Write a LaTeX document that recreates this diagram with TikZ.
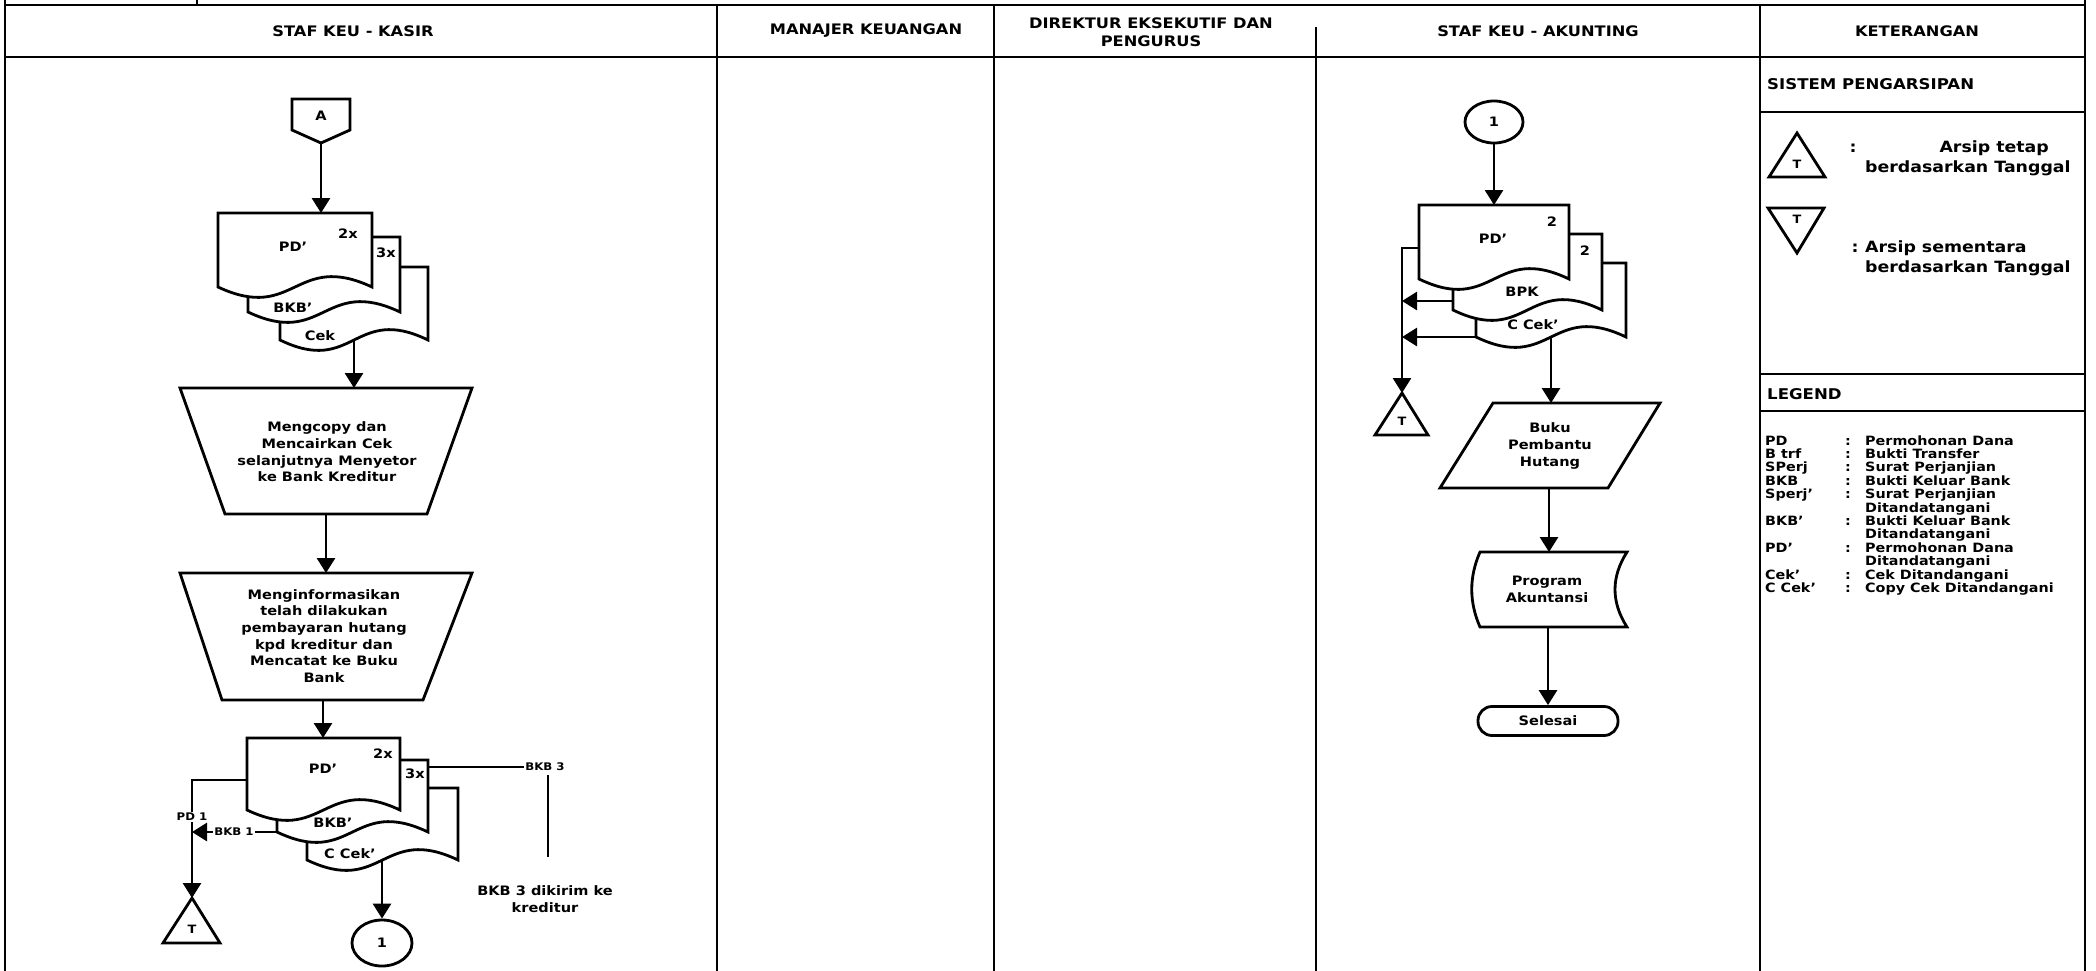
\documentclass[tikz,border=0pt]{standalone}
\usepackage{fontspec}
\setmainfont{DejaVu Sans}[FakeStretch=1.12]
\usetikzlibrary{arrows.meta,shapes.geometric}
\newcommand\kdoc[4]{%
  \draw[shp] (#1,#3) -- (#2,#3) -- (#2,#4)
    .. controls ({(#1+#2)/2},{#4-36}) and ({(#1+#2)/2},{#4+36}) .. (#1,#4) -- cycle;}
\begin{document}
\begin{tikzpicture}[x=1pt,y=-1pt,
  frm/.style={line width=2.4pt,line cap=rect},
  shp/.style={draw,line width=2.8pt,fill=white,line join=miter},
  ln/.style={line width=2.8pt},
  arr/.style={line width=2.8pt,-{Triangle[width=18pt,length=15pt]}},
  ftxt/.style={font=\bfseries\fontsize{13}{16.7}\selectfont,align=center,inner sep=0pt},
  stxt/.style={font=\bfseries\fontsize{10.5}{12}\selectfont,inner sep=1pt,fill=white},
  hdr/.style={font=\bfseries\fontsize{14.5}{18.5}\selectfont,align=center,inner sep=0pt},
  ktx/.style={font=\bfseries\fontsize{15.5}{19.5}\selectfont,inner sep=0pt},
  ttl/.style={font=\bfseries\fontsize{14.8}{18}\selectfont,inner sep=0pt,anchor=base west},
  leg/.style={font=\bfseries\fontsize{12.8}{13.4}\selectfont,inner sep=0pt,anchor=base west},
  ttx/.style={font=\bfseries\fontsize{11.5}{13}\selectfont,inner sep=0pt},
  circ/.style={draw,ellipse,line width=2.8pt,font=\bfseries\fontsize{13}{14}\selectfont,inner sep=0pt}
]
\useasboundingbox (0,0) rectangle (2096,970);

% ---------- frame ----------
\draw[frm] (5,0) -- (5,970);
\draw[frm] (5,5) -- (2085,5);
\draw[frm] (5,57) -- (2085,57);
\draw[frm] (197,0) -- (197,5);
\draw[frm] (717,5) -- (717,970);
\draw[frm] (994,5) -- (994,970);
\draw[frm] (1316,28) -- (1316,970);
\draw[frm] (1760,5) -- (1760,970);
\draw[frm] (2085,0) -- (2085,970);
\draw[frm] (1760,112) -- (2085,112);
\draw[frm] (1760,374) -- (2085,374);
\draw[frm] (1760,411) -- (2085,411);

% ---------- headers ----------
\node[hdr] (h1) at (353,31) {STAF KEU - KASIR};
\node[hdr] (h2) at (866,31) {MANAJER KEUANGAN};
\node[hdr] (h3) at (1151,32) {DIREKTUR EKSEKUTIF DAN\\PENGURUS};
\node[hdr] (h4) at (1538,31) {STAF KEU - AKUNTING};
\node[hdr] (h5) at (1917,31) {KETERANGAN};

% ---------- KASIR ----------
\draw[shp] (292,99) -- (350,99) -- (350,130) -- (321,143) -- (292,130) -- cycle;
\node[ftxt] (lblA) at (321,116) {A};
\coordinate (Abot) at (321,143);
\coordinate (k1top) at (321,213);

\kdoc{280}{428}{267}{340}
\kdoc{248}{400}{237}{312}
\kdoc{218}{372}{213}{287}
\node[ftxt] (k1n2) at (348,234) {2x};
\node[ftxt] (k1pd) at (293,247) {PD’};
\node[ftxt] (k1n3) at (386,253) {3x};
\node[ftxt] (k1bkb) at (293,308) {BKB’};
\node[ftxt] (k1cek) at (320,336) {Cek};
\coordinate (k1bot) at (354,340);
\draw[arr] (Abot) -- (k1top);

\draw[shp] (180,388) -- (472,388) -- (427,514) -- (225,514) -- cycle;
\node[ftxt] (t1) at (327,452) {Mengcopy dan\\Mencairkan Cek\\selanjutnya Menyetor\\ke Bank Kreditur};
\coordinate (t1top) at (354,388);
\coordinate (t1bot) at (326,514);
\draw[arr] (k1bot) -- (t1top);

\draw[shp] (180,573) -- (472,573) -- (423,700) -- (222,700) -- cycle;
\node[ftxt] (t2) at (324,636) {Menginformasikan\\telah dilakukan\\pembayaran hutang\\kpd kreditur dan\\Mencatat ke Buku\\Bank};
\coordinate (t2top) at (326,573);
\coordinate (t2bot) at (323,700);
\draw[arr] (t1bot) -- (t2top);

\kdoc{307}{458}{788}{860}
\kdoc{277}{428}{760}{832}
\kdoc{247}{400}{738}{810}
\node[ftxt] (k2n2) at (383,754) {2x};
\node[ftxt] (k2pd) at (323,769) {PD’};
\node[ftxt] (k2n3) at (415,774) {3x};
\node[ftxt] (k2bkb) at (333,823) {BKB’};
\node[ftxt] (k2cek) at (350,854) {C Cek’};
\coordinate (k2top) at (323,738);
\draw[arr] (t2bot) -- (k2top);

% archive T (Kasir)
\draw[shp] (192,898) -- (220,943) -- (163,943) -- cycle;
\node[ttx] (kT) at (192,929) {T};
\coordinate (kTtop) at (192,898);
\coordinate (k2pdl) at (247,780);
\draw[arr] (k2pdl) -- (192,780) -- (kTtop);
\node[stxt] (pd1) at (192,817) {PD 1};
\coordinate (k2bkbl) at (277,832);
\coordinate (k2join) at (192,832);
\draw[arr] (k2bkbl) -- (k2join);
\node[stxt] (bkb1) at (234,832) {BKB 1};

% BKB 3
\coordinate (k2bkbr) at (428,767);
\node[stxt,fill=none] (bkb3) at (545,767) {BKB 3};
\draw[ln] (k2bkbr) -- (bkb3.west);
\coordinate (bkb3end) at (548,857);
\draw[ln] (548,775) -- (bkb3end);
\node[ftxt] (kirim) at (545,899) {BKB 3 dikirim ke\\kreditur};

% connector 1 (Kasir)
\node[circ,minimum width=60pt,minimum height=46pt] (c1k) at (382,943) {1};
\coordinate (k2bot) at (382,860);
\draw[arr] (k2bot) -- (c1k.north);

% ---------- AKUNTING ----------
\node[circ,minimum width=58pt,minimum height=42pt] (c1a) at (1494,122) {1};
\coordinate (a1top) at (1494,205);
\kdoc{1476}{1626}{263}{337}
\kdoc{1453}{1602}{234}{310}
\kdoc{1419}{1569}{205}{279}
\draw[arr] (c1a.south) -- (a1top);
\node[ftxt] (a1n2) at (1552,222) {2};
\node[ftxt] (a1pd) at (1493,239) {PD’};
\node[ftxt] (a1n3) at (1585,251) {2};
\node[ftxt] (a1bpk) at (1522,292) {BPK};
\node[ftxt] (a1cek) at (1533,325) {C Cek’};

\draw[shp] (1402,393) -- (1428,435) -- (1375,435) -- cycle;
\node[ttx] (aT) at (1402,421) {T};
\coordinate (aTtop) at (1402,393);
\coordinate (a1pdl) at (1419,248);
\draw[arr] (a1pdl) -- (1402,248) -- (aTtop);
\coordinate (a1bpkl) at (1453,301);
\coordinate (ajoin1) at (1402,301);
\draw[arr] (a1bpkl) -- (ajoin1);
\coordinate (a1cekl) at (1476,337);
\coordinate (ajoin2) at (1402,337);
\draw[arr] (a1cekl) -- (ajoin2);

\coordinate (a1bot) at (1551,337);
\coordinate (bphtop) at (1551,403);
\draw[arr] (a1bot) -- (bphtop);
\draw[shp] (1493,403) -- (1660,403) -- (1608,488) -- (1440,488) -- cycle;
\node[ftxt] (bph) at (1550,446) {Buku\\Pembantu\\Hutang};
\coordinate (bphbot) at (1549,488);
\coordinate (progtop) at (1549,552);
\draw[arr] (bphbot) -- (progtop);

\draw[shp] (1480,552) -- (1627,552) .. controls (1611,577) and (1611,602) .. (1627,627)
  -- (1480,627) .. controls (1469,602) and (1469,577) .. (1480,552) -- cycle;
\node[ftxt] (prog) at (1547,589) {Program\\Akuntansi};
\coordinate (progbot) at (1548,627);
\node[draw,line width=2.8pt,rounded corners=14pt,minimum width=140pt,minimum height=29pt,
  font=\bfseries\fontsize{13}{14}\selectfont,inner sep=0pt] (sel) at (1548,721) {Selesai};
\draw[arr] (progbot) -- (sel.north);

% ---------- KETERANGAN ----------
\node[ttl] (sp) at (1767,89) {SISTEM PENGARSIPAN};
\draw[shp] (1797,133) -- (1825,177) -- (1769,177) -- cycle;
\node[ttx] (kT1) at (1797,164) {T};
\node[ktx,anchor=base] (col1) at (1853,152) {:};
\node[ktx,anchor=base east] (ar1) at (2049,152) {Arsip tetap};
\node[ktx,anchor=base west] (ar1b) at (1865,172) {berdasarkan Tanggal};

\draw[shp] (1768,208) -- (1824,208) -- (1797,253) -- cycle;
\node[ttx] (kT2) at (1797,219) {T};
\node[ktx,anchor=base] (col2) at (1855,252) {:};
\node[ktx,anchor=base west] (ar2) at (1865,252) {Arsip sementara};
\node[ktx,anchor=base west] (ar2b) at (1865,272) {berdasarkan Tanggal};

\node[ttl] (lg) at (1767,399) {LEGEND};

\foreach \k/\c/\d [count=\i] in {
  PD/:/Permohonan Dana,
  {B trf}/:/Bukti Transfer,
  SPerj/:/Surat Perjanjian,
  BKB/:/Bukti Keluar Bank,
  Sperj’/:/Surat Perjanjian,
  {}/{}/Ditandatangani,
  BKB’/:/Bukti Keluar Bank,
  {}/{}/Ditandatangani,
  PD’/:/Permohonan Dana,
  {}/{}/Ditandatangani,
  Cek’/:/Cek Ditandangani,
  {C Cek’}/:/Copy Cek Ditandangani}{
  \node[leg] (lk\i) at (1765,{445+13.4*(\i-1)}) {\k};
  \node[leg] (lc\i) at (1845,{445+13.4*(\i-1)}) {\c};
  \node[leg] (ld\i) at (1865,{445+13.4*(\i-1)}) {\d};
}
\end{tikzpicture}
\end{document}
